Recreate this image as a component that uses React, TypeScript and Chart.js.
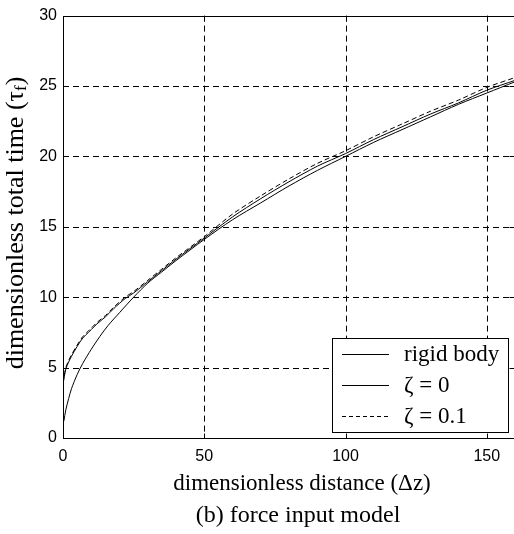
import React, { useEffect, useRef } from "react";
import { Chart, registerables } from "chart.js";

Chart.register(...registerables);

// ---- data ----
const rigidDistance = [0.3, 1, 2, 3, 5, 7, 10, 13, 16, 20, 25, 30, 35, 40, 50, 60, 70, 80, 90, 100, 110, 120, 130, 140, 150, 160];
const rigidTime = [1.2, 2.0, 2.8, 3.5, 4.5, 5.3, 6.3, 7.2, 8.0, 8.9, 10.0, 11.0, 11.8, 12.6, 14.1, 15.5, 16.7, 17.9, 19.0, 20.0, 21.0, 21.9, 22.8, 23.7, 24.5, 25.3];

const zetaDistance = [0, 0.5, 1, 2, 3, 5, 7, 9, 10, 12, 15, 18, 22, 25, 30, 35, 40, 50, 60, 70, 80, 90, 100, 110, 120, 130, 140, 150, 160];
const zeta0Time = [3.8, 4.4, 4.9, 5.4, 5.8, 6.5, 7.1, 7.5, 7.7, 8.1, 8.6, 9.2, 9.9, 10.3, 11.1, 11.9, 12.7, 14.2, 15.7, 17.0, 18.2, 19.3, 20.2, 21.2, 22.1, 23.0, 23.8, 24.7, 25.4];
const zeta01Time = [3.9, 4.5, 5.0, 5.5, 5.9, 6.6, 7.2, 7.6, 7.8, 8.2, 8.7, 9.3, 10.0, 10.4, 11.2, 12.0, 12.8, 14.3, 15.9, 17.2, 18.4, 19.5, 20.4, 21.4, 22.3, 23.2, 24.0, 24.9, 25.6];

const xTicks = [0, 50, 100, 150];
const yTicks = [0, 5, 10, 15, 20, 25, 30];
const legendLabels = ["rigid body", "\u03b6 = 0", "\u03b6 = 0.1"];
const xTitle = "dimensionless distance (\u0394z)";
const yTitleMain = "dimensionless total time (\u03c4";
const yTitleSub = "f";
const yTitleEnd = ")";
const caption = "(b) force input model";

const SERIF = "'Liberation Serif', 'Times New Roman', serif";
const SANS = "'Liberation Sans', Arial, sans-serif";

const framePlugin = {
  id: "frame",
  beforeDatasetsDraw(chart: any) {
    const { ctx, chartArea: a, scales } = chart;
    const xs = scales.x, ys = scales.y;
    ctx.save();
    ctx.strokeStyle = "#000";
    ctx.lineWidth = 1;
    ctx.setLineDash([6, 4]);
    ctx.beginPath();
    for (const v of xTicks) {
      if (v === 0) continue;
      const px = Math.round(xs.getPixelForValue(v)) + 0.5;
      ctx.moveTo(px, a.top);
      ctx.lineTo(px, a.bottom);
    }
    for (const v of yTicks) {
      if (v === 0 || v === 30) continue;
      const py = Math.round(ys.getPixelForValue(v)) + 0.5;
      ctx.moveTo(a.left, py);
      ctx.lineTo(a.right, py);
    }
    ctx.stroke();
    ctx.restore();
  },
  afterDraw(chart: any) {
    const { ctx, chartArea: a, scales } = chart;
    const xs = scales.x, ys = scales.y;
    ctx.save();
    // frame
    ctx.strokeStyle = "#000";
    ctx.lineWidth = 1;
    ctx.setLineDash([]);
    const L = Math.round(a.left) + 0.5, R = Math.round(a.right) - 0.5;
    const T = Math.round(a.top) + 0.5, B = Math.round(a.bottom) + 0.5;
    ctx.strokeRect(L, T, R - L, B - T);
    // inward ticks
    ctx.beginPath();
    for (const v of xTicks) {
      const px = Math.round(xs.getPixelForValue(v)) + 0.5;
      ctx.moveTo(px, B); ctx.lineTo(px, B - 5);
      ctx.moveTo(px, T); ctx.lineTo(px, T + 5);
    }
    for (const v of yTicks) {
      const py = Math.round(ys.getPixelForValue(v)) + 0.5;
      ctx.moveTo(L, py); ctx.lineTo(L + 5, py);
      ctx.moveTo(R, py); ctx.lineTo(R - 5, py);
    }
    ctx.stroke();

    // legend
    const lx = 332.5, ly = 338.5, lw = 176, lh = 94;
    ctx.fillStyle = "#fff";
    ctx.fillRect(lx, ly, lw, lh);
    ctx.strokeRect(lx, ly, lw, lh);
    const rows = [354, 385, 416];
    const dashes = [[], [], [4, 3]];
    ctx.font = `23px ${SERIF}`;
    ctx.textBaseline = "middle";
    ctx.textAlign = "left";
    rows.forEach((ry, i) => {
      ctx.setLineDash(dashes[i]);
      ctx.beginPath();
      ctx.moveTo(342, ry + 0.5);
      ctx.lineTo(389, ry + 0.5);
      ctx.stroke();
      ctx.setLineDash([]);
      ctx.fillStyle = "#000";
      ctx.fillText(legendLabels[i], 404, ry + 1);
    });

    // x title and caption
    ctx.textAlign = "center";
    ctx.font = `23px ${SERIF}`;
    ctx.fillText(xTitle, 302, 484);
    ctx.font = `24px ${SERIF}`;
    ctx.fillText(caption, 298, 516);

    // y title (rotated, with subscript)
    ctx.translate(16, 223);
    ctx.rotate(-Math.PI / 2);
    ctx.textAlign = "left";
    const mainFont = `26px ${SERIF}`;
    const subFont = `17px ${SERIF}`;
    ctx.font = mainFont;
    const w1 = ctx.measureText(yTitleMain).width;
    const w3 = ctx.measureText(yTitleEnd).width;
    ctx.font = subFont;
    const w2 = ctx.measureText(yTitleSub).width;
    const total = w1 + w2 + w3;
    const x0 = -total / 2;
    ctx.font = mainFont;
    ctx.fillText(yTitleMain, x0, 0);
    ctx.font = subFont;
    ctx.fillText(yTitleSub, x0 + w1, 6);
    ctx.font = mainFont;
    ctx.fillText(yTitleEnd, x0 + w1 + w2, 0);
    ctx.restore();
  },
};

export default function App() {
  const ref = useRef<HTMLCanvasElement | null>(null);
  useEffect(() => {
    if (!ref.current) return;
    const toPts = (xs: number[], ys: number[]) => xs.map((x, i) => ({ x, y: ys[i] }));
    const chart = new Chart(ref.current, {
      type: "line",
      data: {
        datasets: [
          { label: legendLabels[0], data: toPts(rigidDistance, rigidTime), borderColor: "#000", borderWidth: 1, pointRadius: 0, tension: 0.3, fill: false },
          { label: legendLabels[1], data: toPts(zetaDistance, zeta0Time), borderColor: "#000", borderWidth: 1, pointRadius: 0, tension: 0.3, fill: false },
          { label: legendLabels[2], data: toPts(zetaDistance, zeta01Time), borderColor: "#000", borderWidth: 1, borderDash: [5, 3], pointRadius: 0, tension: 0.3, fill: false },
        ],
      },
      options: {
        animation: false,
        responsive: false,
        devicePixelRatio: 1,
        layout: { padding: { top: 13, right: 5, bottom: 0, left: 0 } },
        plugins: { legend: { display: false }, tooltip: { enabled: false }, title: { display: false } },
        scales: {
          x: {
            type: "linear",
            min: 0,
            max: 160,
            grid: { display: false, drawTicks: false },
            border: { display: false },
            afterBuildTicks: (s: any) => { s.ticks = xTicks.map((v) => ({ value: v })); },
            afterFit: (s: any) => { s.height = 96; },
            ticks: { color: "#000", font: { family: SANS, size: 16 }, padding: 9, maxRotation: 0, autoSkip: false },
          },
          y: {
            type: "linear",
            min: 0,
            max: 30,
            grid: { display: false, drawTicks: false },
            border: { display: false },
            afterBuildTicks: (s: any) => { s.ticks = yTicks.map((v) => ({ value: v })); },
            afterFit: (s: any) => { s.width = 63; },
            ticks: { color: "#000", font: { family: SANS, size: 16 }, padding: 6, autoSkip: false },
          },
        },
      },
      plugins: [framePlugin],
    });
    return () => chart.destroy();
  }, []);
  return (
    <div style={{ position: "fixed", left: 0, top: 0, width: 514, height: 534, overflow: "hidden", background: "#fff" }}>
      <canvas ref={ref} width={520} height={534} style={{ display: "block", width: 520, height: 534 }} />
    </div>
  );
}
